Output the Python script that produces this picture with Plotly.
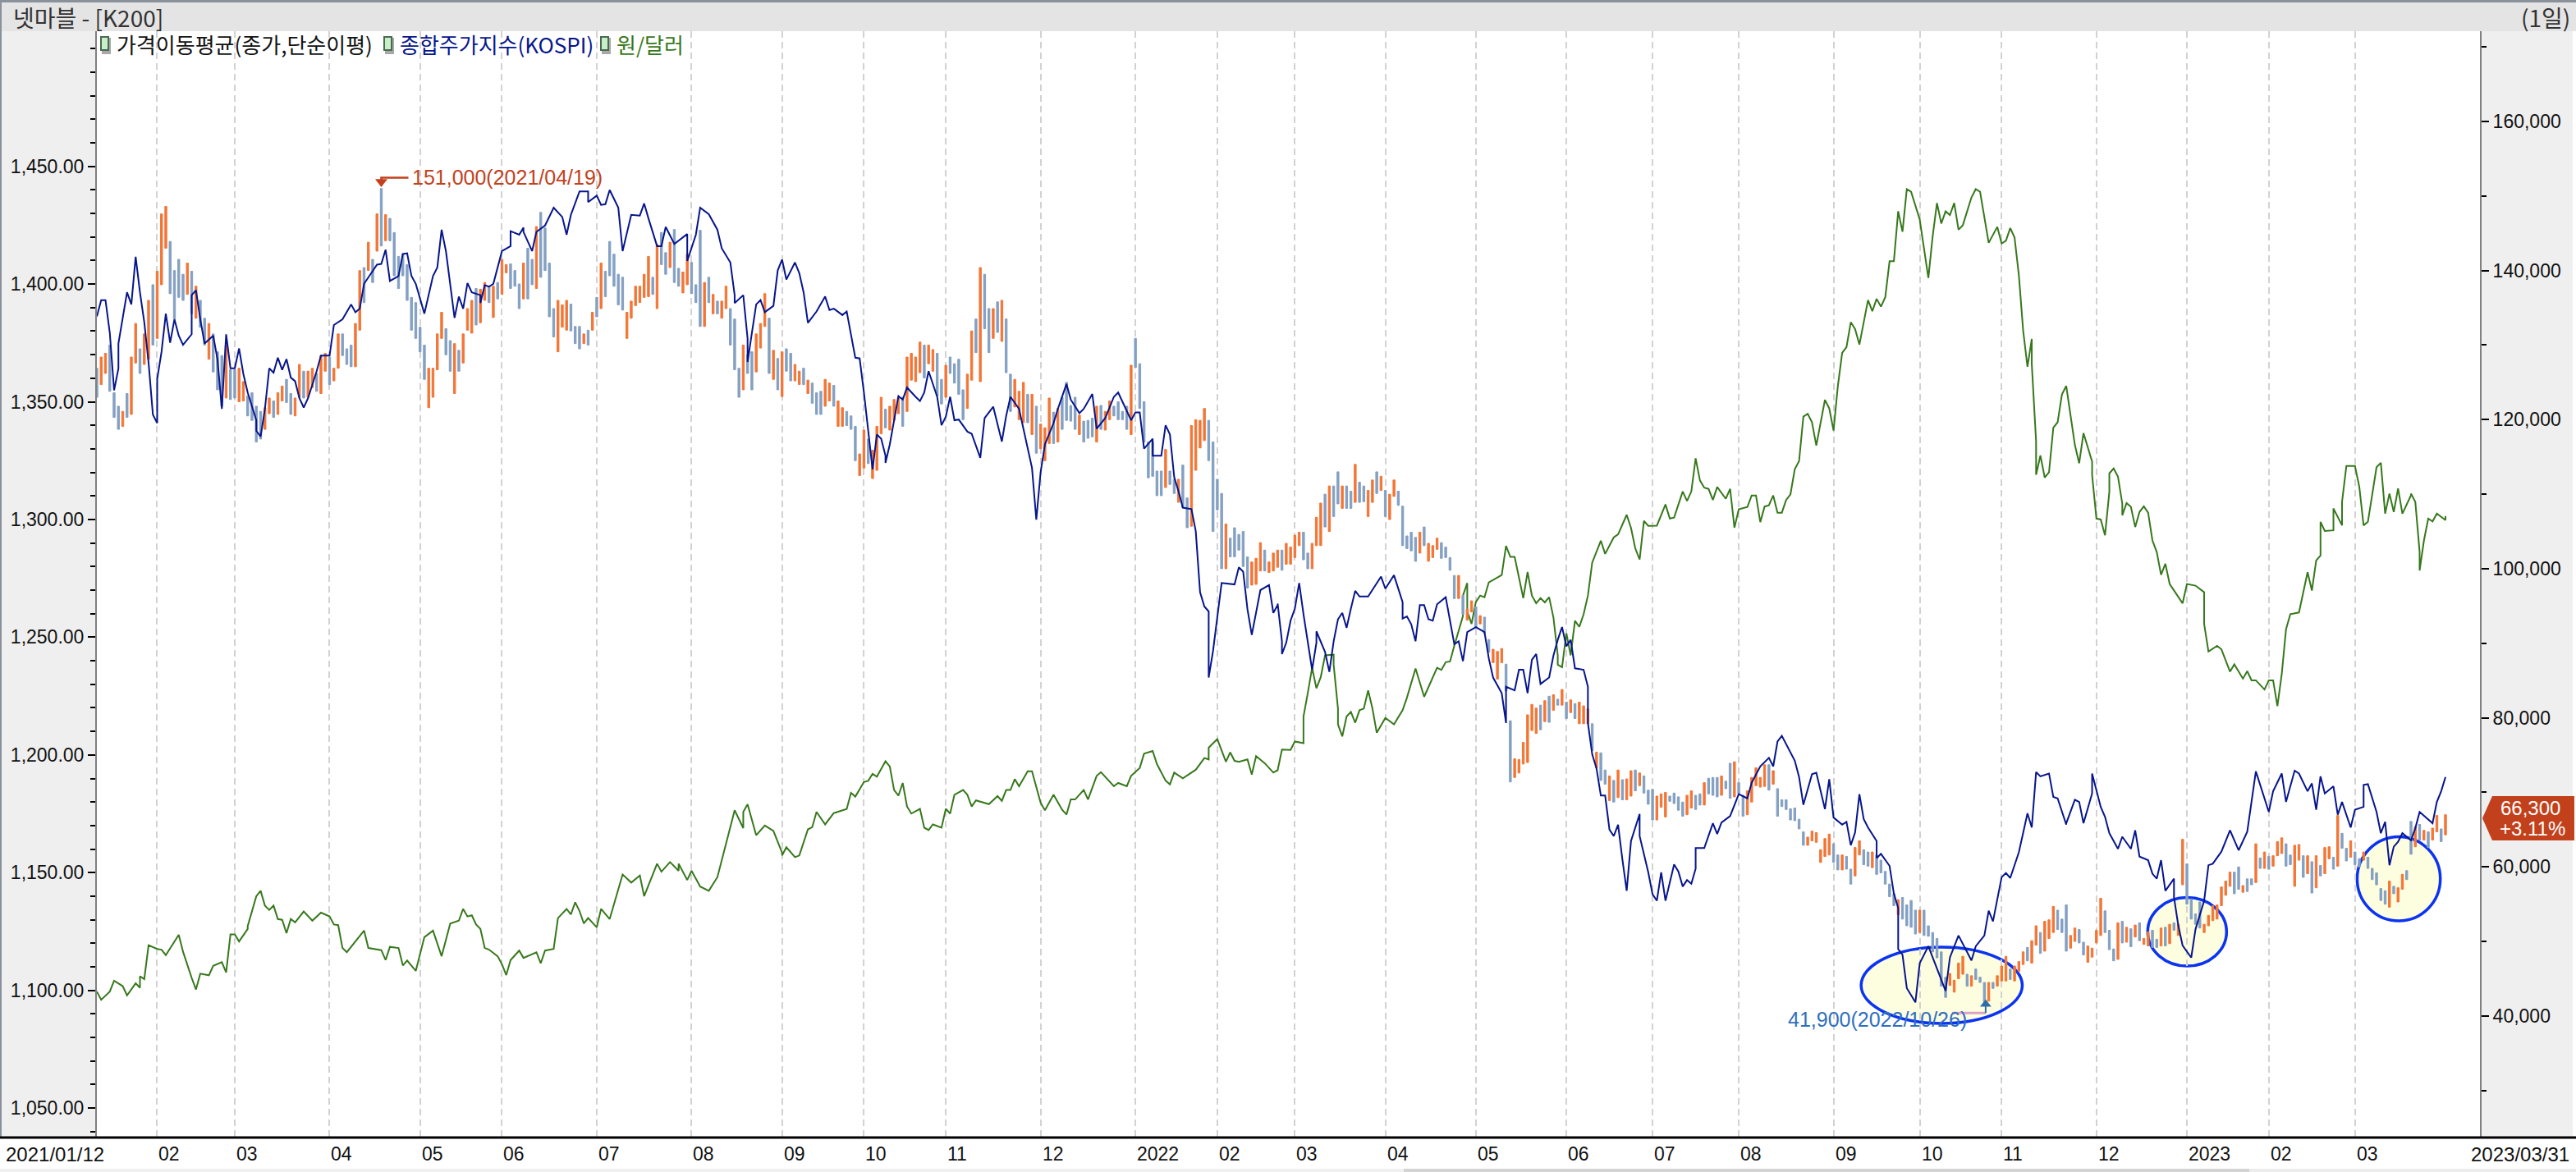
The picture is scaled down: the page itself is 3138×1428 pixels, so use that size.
"""Netmarble daily chart with KOSPI and USD/KRW overlays, in the HTS look."""

import plotly.graph_objects as go

# ---------------------------------------------------------------------------
# Data. Day = trading session counted from 2021/01/12.
# ---------------------------------------------------------------------------

tick_days = [14, 32, 54, 75, 94, 116, 138, 159, 178, 197, 219, 241, 260, 278, 299, 320, 341,
             361, 381, 403, 423, 442, 464, 485, 504, 524]
tick_labels = ["02", "03", "04", "05", "06", "07", "08", "09", "10", "11", "12", "2022", "02",
               "03", "04", "05", "06", "07", "08", "09", "10", "11", "12", "2023", "02", "03"]

usd_a = [(0,1099.5),(1,1096),(3,1099.5),(4,1104.1),(6,1101.8),(7,1097.9),(9,1103),(10,1101.1),(10,1106),(11,1104.8),(12,1119.2),(14,1117.6),(15,1117.3),(16,1115),(19,1123.6),(20,1116.4),(22,1105.3),(23,1100.7),(23,1100.4),(24,1107.1),(26,1106.4),(27,1110.4),(29,1112),(30,1107.6),(31,1123.8),(32,1123.8),(33,1120.8),(35,1126.1),(35,1127.3),(37,1140),(38,1142.3),(39,1136),(40,1134.2),(41,1136),(42,1130.3),(43,1130),(44,1124.3),(45,1130.3),(46,1128.9),(48,1133.5),(50,1129.6),(52,1133),(54,1131.4),(55,1128),(56,1127.7),(57,1118),(58,1116.2),(62,1125.4),(63,1118),(66,1117.1),(67,1112.9),(68,1118.5),(70,1118),(71,1110.6),(72,1112.7),(74,1108.3),(76,1122.6),(78,1125.4),(80,1114.5),(82,1128.4),(84,1129.6),(85,1134.6),(86,1131.4),(87,1131.9),(88,1128),(89,1126.1),(90,1118),(91,1117.3)]
usd_b = [(93,1114.5),(94,1111.1),(95,1106.5),(96,1112.9),(98,1116.9),(99,1113.8),(102,1116.2),(103,1111.5),(104,1116.9),(106,1117.6),(107,1130.7),(109,1134.6),(110,1132.3),(111,1137.4),(112,1133.7),(113,1128.4),(114,1130.7),(116,1126.8),(117,1134.6),(119,1130.3),(122,1149.2),(124,1145.8),(126,1148.8),(127,1140),(128,1144.6),(130,1153.8),(131,1150.4),(133,1154.5),(135,1150.8),(135,1153.8),(137,1146.9),(138,1150.8),(140,1144.1),(142,1142.3),(144,1148.1),(146,1162),(148,1176.5),(150,1168.9),(150,1175.8),(151,1179),(153,1165.9),(155,1170),(157,1167.7),(159,1158.5),(159,1157.3),(160,1160.8),(162,1156.6),(163,1157.3),(165,1168.4),(166,1169.3),(167,1175.8),(169,1170.5),(171,1175.3),(174,1177),(175,1183.9),(176,1182.3),(178,1188.5),(179,1189),(180,1192),(181,1190.8),(183,1197.3)]
usd_c = [(184,1195.1),(185,1185.1),(186,1182.7),(187,1188.1),(188,1178.1),(189,1175.1),(191,1177.1),(192,1169.1),(193,1168.1),(194,1170.5),(196,1169.1),(197,1177.1),(198,1175.1),(199,1183.1),(201,1185.1),(202,1183.1),(203,1178.1),(204,1180.7),(207,1179.1),(209,1182.5),(210,1180.5),(211,1185.1),(212,1185.1),(213,1189.7),(214,1186.7),(216,1193.1),(217,1193.1),(219,1179.7),(220,1176.5),(222,1183.1),(224,1176.7),(225,1174.7),(226,1181.1),(227,1181.1),(229,1185.1),(230,1181.1),(232,1191.1),(233,1192.7),(236,1186.7),(237,1188.1),(239,1186.7),(240,1191.1),(242,1194.5),(243,1200.5),(245,1201.7),(246,1196.1),(248,1189.1),(249,1187.5),(250,1192.5),(252,1190.1),(255,1193.7),(257,1198.7),(258,1198.1),(258,1203.1),(260,1206.7),(262,1197.1),(263,1201.1),(264,1197.5),(265,1197.1),(267,1198.1),(268,1191.7),(269,1199.5),(271,1196.5),(273,1192.5),(274,1193.5)]
usd_d = [(275,1202.3),(277,1202.1),(278,1205.7),(280,1205),(280,1216.3),(281,1226.3),(282,1237),(283,1228.3),(284,1233),(285,1242.3),(287,1242.6),(287,1238.3),(288,1219.7),(288,1213),(289,1207.9),(290,1216.3),(291,1218.3),(292,1213.7),(293,1219),(294,1219.7),(295,1227.4),(296,1219.7),(297,1209.4),(299,1215.7),(301,1213),(303,1219),(304,1224.3),(306,1236.7),(308,1224.7),(311,1237),(312,1236.1),(313,1239.4),(314,1239.7),(315,1246.4),(317,1259),(317,1267.7),(318,1273),(318,1261),(319,1255.7),(320,1265),(321,1267.7),(322,1267),(323,1273.3),(326,1276.4),(327,1288.8),(328,1284.1),(329,1284.1),(331,1266.6),(332,1277.7),(333,1267.7),(334,1264.4),(335,1266.6),(336,1264.8),(337,1267),(338,1258.4),(339,1242.3),(339,1238.3),(340,1237.3),(341,1251.7),(342,1242.3),(343,1257),(344,1254.4),(345,1259.7),(346,1267.7),(347,1281.7),(349,1291),(350,1285.4),(352,1292.4),(353,1293.7),(355,1302),(356,1296.4),(357,1287.7),(358,1283),(359,1299.4),(360,1297.3),(362,1297.4),(364,1306.4),(365,1300.4),(366,1300.8)]
usd_e = [(368,1311.9),(369,1307.9),(370,1311.9),(371,1326),(372,1316.6),(373,1313.5),(374,1313),(375,1308.3),(376,1313.8),(378,1308.8),(379,1313),(380,1296.5),(381,1304.3),(383,1305.3),(384,1310.2),(385,1310.2),(386,1298.9),(387,1305.5),(388,1306),(389,1310.2),(390,1302.9),(391,1302.9),(392,1308.3),(393,1310.7),(394,1321.3),(395,1324.8),(396,1343.7),(397,1344.9),(398,1341.3),(399,1331.4),(401,1350.8),(402,1347.2),(403,1337.8),(404,1356.7),(405,1370.8),(406,1373.2),(407,1383.8),(408,1380.9),(409,1374.3),(411,1393.2),(412,1388.5),(413,1393.7),(414,1390.4),(415,1394.4),(416,1409.7),(417,1409.7),(418,1430.9),(419,1422.2),(420,1440.3),(421,1439.2),(423,1427.4),(424,1415.6),(425,1402.6),(426,1420.3),(427,1434.4),(428,1425.7),(429,1430.9),(430,1429.3),(431,1434.4),(432,1423.1),(433,1425),(435,1436.8),(436,1440.3),(437,1439.2),(438,1428.5),(439,1417.5),(441,1424.3),(442,1417.2),(443,1418.4),(444,1423.8),(445,1419.8),(446,1403.8),(447,1380.2),(448,1364.9),(449,1376.7),(449,1366.1),(450,1333.1),(450,1319),(451,1327.2),(452,1317.8),(453,1320.1),(454,1339),(455,1341.3),(456,1353.1),(457,1356.7)]
usd_f = [(459,1331.7),(460,1323.9),(461,1336.7),(463,1324.6),(463,1318.9),(464,1300.4),(465,1300),(466,1293.3),(467,1311.8),(467,1319.6),(468,1321.7),(469,1318.2),(470,1306.8),(470,1301.8),(471,1307),(472,1305.4),(473,1296.8),(474,1303.2),(475,1305.6),(476,1302.9),(477,1291.1),(478,1286.2),(479,1276.5),(480,1281.2),(481,1272.6),(484,1264.4),(485,1272.6),(487,1271.9),(489,1269.1),(489,1255.6),(490,1243.9),(492,1246.3),(493,1244.9),(495,1235.4),(496,1238.5),(498,1232.4),(499,1235.6),(500,1231.7),(501,1231.7),(503,1227.8),(504,1231.7),(505,1231.7),(506,1220.7),(507,1234.2),(508,1253.4),(509,1259.8),(511,1260.5),(513,1277.6),(514,1269.8),(515,1282.6),(516,1284.7),(516,1299),(517,1295.1),(519,1295.4),(519,1304.7),(521,1297.5),(521,1307.5),(522,1322.7),(524,1322.7),(525,1313.9),(526,1297.5),(527,1299),(529,1322.2),(530,1324.1),(531,1302.5),(532,1311),(533,1303.2),(534,1313.2),(535,1302.5),(537,1310.3),(537,1311),(538,1307.5),(539,1286.2),(539,1278.3),(540,1291.1),(541,1300.4),(542,1299.2),(543,1302.5),(545,1299.7),(545,1301.5)]

kospi_a = [(0,3123),(1,3146),(2,3146),(3,3100),(4,3019),(5,3050),(5,3085),(6,3119),(7,3157),(8,3140),(9,3207),(10,3157),(11,3115),(12,3058),(13,2985),(14,2973),(14,3035),(15,3073),(16,3127),(17,3086),(18,3119),(19,3096),(20,3083),(22,3098),(22,3153),(23,3160),(24,3119),(25,3085),(27,3096),(28,3062),(29,2993),(30,3098),(31,3050),(32,3050),(33,3078),(34,3042),(35,3016),(37,2977),(37,2962),(38,2954),(39,2993),(40,3050),(41,3044),(42,3065),(43,3048),(44,3063),(45,3037),(46,3032),(47,3008),(48,2995),(49,3008),(51,3046),(52,3068),(54,3068),(55,3111),(57,3119),(59,3140),(60,3129),(61,3134),(62,3169),(64,3188),(65,3196),(66,3197),(67,3217),(68,3173),(70,3180),(71,3211),(72,3212),(73,3180),(74,3169),(76,3127),(78,3180),(79,3192),(80,3245),(81,3215),(82,3165),(83,3121),(84,3151),(85,3134),(86,3170),(87,3157),(89,3153),(89,3142),(90,3167),(91,3165)]
kospi_b = [(92,3169),(94,3215),(96,3222),(96,3243),(98,3238),(99,3248),(99,3242),(101,3215),(102,3242),(104,3251),(106,3276),(108,3263),(109,3238),(110,3266),(112,3299),(114,3299),(114,3284),(116,3293),(117,3280),(118,3281),(119,3301),(121,3276),(122,3215),(124,3266),(126,3265),(127,3282),(128,3261),(130,3222),(131,3222),(132,3249),(134,3225),(137,3239),(137,3201),(139,3238),(140,3276),(142,3267),(144,3245),(145,3219),(147,3199),(148,3153),(148,3142),(150,3153),(151,3092),(151,3059),(152,3100),(153,3140),(154,3146),(155,3129),(157,3138),(158,3188),(159,3203),(160,3175),(162,3199),(163,3184),(164,3157),(165,3114),(167,3130),(169,3151),(170,3132),(171,3134),(173,3125),(174,3130),(176,3065),(177,3064),(178,3016),(180,2908),(181,2957),(182,2951),(183,2927)]
kospi_c = [(183,2917),(184,2943),(185,2977),(186,3011),(187,3006),(188,3023),(190,3010),(191,3004),(192,3016),(193,3046),(195,3010),(196,2970),(197,2982),(198,3010),(199,2977),(200,2978),(202,2961),(203,2958),(205,2924),(206,2980),(208,2996),(210,2947),(211,2983),(212,3010),(214,2993),(216,2937),(217,2910),(218,2837),(219,2904),(220,2943),(222,2973),(223,2993),(225,3028),(226,3006),(228,2987),(229,2993),(231,3014),(232,2965),(234,2980),(236,3010),(237,3016),(240,2977),(241,2988),(242,2988),(243,2937),(245,2951),(245,2927),(247,2927),(248,2970),(249,2957),(250,2897),(251,2877),(252,2854),(254,2852),(255,2821),(256,2735),(257,2715),(258,2708),(258,2615),(259,2652),(260,2698),(261,2748),(264,2746),(265,2770),(266,2764),(267,2711),(268,2675),(270,2738),(272,2745),(273,2706),(274,2717)]
kospi_d = [(274,2719),(275,2666),(275,2648),(276,2664),(277,2695),(278,2712),(279,2748),(280,2704),(281,2662),(282,2626),(283,2664),(283,2680),(285,2651),(286,2623),(287,2666),(288,2697),(289,2706),(290,2685),(291,2712),(292,2737),(293,2729),(295,2729),(298,2757),(299,2740),(301,2759),(301,2759),(303,2721),(303,2698),(304,2701),(305,2690),(306,2666),(307,2717),(308,2717),(309,2697),(310,2695),(311,2718),(313,2728),(314,2695),(315,2662),(316,2666),(317,2638),(318,2679),(320,2686),(322,2679),(323,2642),(324,2615),(326,2593),(327,2551),(327,2602),(329,2597),(330,2626),(331,2626),(332,2593),(333,2640),(334,2648),(335,2606),(337,2615),(338,2646),(339,2668),(340,2686),(341,2659),(342,2668),(343,2628),(345,2626),(346,2602),(346,2551),(347,2507),(348,2487),(349,2449),(350,2449),(351,2401),(352,2392),(353,2408),(354,2359),(355,2315),(356,2385),(358,2423),(358,2392),(360,2341),(361,2310),(362,2301),(363,2341),(364,2301),(366,2352)]
kospi_e = [(367,2342),(368,2321),(369,2330),(370,2325),(371,2346),(371,2375),(373,2375),(375,2410),(376,2395),(377,2411),(379,2420),(381,2451),(383,2445),(384,2467),(386,2490),(388,2502),(389,2490),(390,2525),(391,2533),(394,2498),(395,2475),(396,2436),(398,2479),(399,2481),(401,2430),(402,2472),(403,2418),(405,2408),(406,2412),(407,2379),(408,2397),(409,2451),(410,2416),(411,2404),(413,2385),(413,2361),(414,2367),(416,2350),(417,2311),(418,2291),(418,2233),(419,2225),(420,2178),(422,2158),(423,2213),(425,2237),(427,2205),(428,2190),(429,2174),(430,2221),(432,2252),(435,2217),(436,2237),(438,2252),(439,2287),(440,2272),(442,2334),(443,2340),(444,2333),(446,2369),(448,2424),(449,2404),(450,2482),(451,2476),(453,2480),(454,2447),(455,2445),(457,2408)]
kospi_f = [(457,2410),(459,2443),(460,2440),(461,2410),(463,2452),(463,2480),(465,2433),(466,2419),(467,2396),(469,2374),(470,2391),(472,2374),(473,2400),(474,2363),(476,2358),(477,2339),(478,2332),(479,2358),(480,2315),(482,2332),(482,2306),(483,2266),(484,2238),(486,2221),(487,2261),(489,2301),(490,2351),(491,2353),(493,2370),(495,2400),(497,2372),(499,2398),(500,2438),(501,2483),(504,2426),(505,2455),(507,2480),(508,2440),(510,2484),(511,2480),(513,2455),(514,2466),(515,2429),(516,2476),(517,2452),(519,2462),(520,2422),(521,2440),(523,2404),(524,2429),(526,2433),(526,2464),(527,2465),(529,2426),(530,2396),(531,2412),(532,2351),(533,2377),(534,2384),(535,2396),(537,2386),(538,2403),(539,2426),(542,2410),(543,2440),(544,2455),(545,2475)]

# Bars run day after day from day 0: (high, low, 1 = rising / 0 = falling)
bars_a = [(126900,123000,0),(128400,124700,1),(128900,126200,1),(130000,123800,0),(123600,120300,0),(121800,118700,0),(121100,119100,1),(123500,120300,0),(128400,120700,1),(132900,127600,1),(129500,126200,0),(131500,127400,1),(136000,128100,1),(138100,130000,0),(139900,130900,1),(147600,138100,1),(148600,143000,1),(143900,136900,0),(140000,133500,0),(141500,136400,0),(139500,136000,0),(141000,136800,1),(139900,134200,0),(137900,133600,1),(136000,132400,0),(133600,130000,0),(132900,128100,1),(131500,126400,0),(129100,124000,0),(128600,121800,0),(130000,122900,1),(126700,122700,0),(126700,122900,0),(126900,122400,1),(125100,122500,1),(123200,120500,0),(123600,119900,0),(121800,117000,0),(121100,117400,0),(121600,118700,1),(122900,120800,1),(122500,120300,0),(123600,120700,1),(124500,122500,1),(125400,122300,0),(123500,120700,0),(122900,120500,1),(127400,123000,1),(126500,122900,0),(126500,123000,1),(126900,124300,1),(126200,123800,0),(128600,123500,1),(128900,126500,1),(128400,124700,0),(126900,125200,1),(131500,126900,1),(131500,128600,0),(129500,127400,0),(130000,127100,0),(132900,127100,1),(140000,132000,1),(140400,135700,0),(143800,140000,1),(141500,138400,0),(147600,142600,1),(151000,143300,0),(147500,144000,1),(147000,144000,0),(145100,139300,0),(141900,137600,0),(142200,139300,0),(140800,136000,0),(136400,132000,0),(135700,130900,0),(132400,129100,0),(130000,125400,0),(126900,121600,1),(126900,123000,1),(131500,126700,1),(134400,130900,1),(132200,128700,0),(130600,126500,0),(130200,123500,1),(129300,126500,0),(131500,127600,1),(134900,132000,1),(136000,131600,1),(137600,132700,0),(137500,133000,1),(138400,136000,1),(137900,135700,0)]
bars_b = [(137900,133700,1),(138400,136200,0),(141500,136800,1),(140800,139700,1),(140900,137600,0),(140000,137900,0),(138200,134900,0),(141000,136200,1),(143000,136200,0),(141500,138100,0),(145900,137600,1),(147800,139100,0),(145700,140000,0),(141000,133800,0),(134900,131100,0),(136000,129100,1),(135400,132400,1),(136000,132000,1),(135500,131900,0),(132500,130200,0),(132500,129500,0),(131500,130200,1),(132000,130000,0),(134400,132000,1),(136400,133800,0),(141000,134900,1),(139900,136500,0),(143900,139300,0),(142200,137900,0),(139500,135400,0),(139100,134700,0),(134400,130900,1),(135900,133600,1),(137900,135300,1),(137900,135700,1),(139500,136400,1),(141900,136500,1),(139100,136800,0),(143500,134900,1),(145100,140800,0),(142400,139500,0),(143800,140400,1),(145500,138400,0),(140300,137900,0),(139800,137000,1),(142200,138100,1),(141100,136900,0),(138100,135700,0),(145400,132500,0),(138400,132500,1),(139100,135700,0),(136800,134200,1),(135900,134200,0),(135900,133600,1),(137900,134900,1),(134900,130000,0),(133500,126700,0),(126900,123000,0),(130000,124000,1),(128700,126200,0),(129100,124000,0),(131500,126400,1),(132900,129600,1),(136900,132500,1),(133600,126200,0),(129300,125400,1),(128200,124000,0),(129100,123100,1),(129500,126500,0),(128900,125200,0),(127400,125200,1),(126500,124700,1),(126900,124700,0),(125300,123500,1),(124900,122200,0),(123600,120700,0),(123800,120700,0),(125400,121800,1),(124900,122500,1),(124600,121800,0),(122500,119100,1),(121600,119100,1),(121100,119200,0),(120500,118700,0),(119100,114500,0),(115400,112500,1),(118600,113500,1),(117400,114100,0),(115900,112100,1),(119100,113200,1),(123000,118100,1),(121400,118900,0)]
bars_c = [(121800,118600,1),(122700,119900,1),(123000,120800,1),(123000,119100,0),(128400,121100,1),(128900,125300,1),(128400,125100,1),(130400,126300,1),(130000,125600,0),(130000,127500,1),(129400,126500,1),(128900,123200,0),(125400,122100,0),(127300,123000,1),(128400,126200,0),(127500,124900,0),(128100,123400,0),(124000,120000,0),(126100,121500,1),(131900,125300,1),(133500,129000,0),(140400,125100,1),(139500,132200,0),(134900,129000,0),(134900,130900,1),(135800,131700,0),(136000,130500,1),(133500,126300,0),(126100,121100,0),(125400,121700,1),(123800,120000,1),(125000,119600,1),(123400,119600,0),(123400,118000,1),(121800,115500,0),(119400,116100,1),(118900,114500,1),(122900,116800,1),(121000,116800,0),(121500,117000,1),(123000,118700,0),(125000,119900,0),(121900,119800,0),(123000,118700,0),(120600,118000,1),(119800,117000,0),(119900,117500,0),(120200,117700,0),(121800,117000,1),(121900,118700,0),(121100,118600,1),(122500,120000,1),(121800,120500,0),(122400,120000,0),(121100,120000,0),(121800,118700,0),(127300,118000,1),(130900,127000,0),(127500,121500,0),(122400,117000,0),(117000,112200,0),(117000,112400,0),(113100,109800,0),(113100,109800,0),(116000,110900,1),(113100,111300,0),(112000,110100,0),(112000,108900,1),(113900,108200,0),(109500,105500,0),(119200,105700,1),(120000,113200,1),(119900,116200,1),(121500,117200,1),(119900,114500,0),(117000,105000,0),(112000,107900,0),(110100,100000,0),(106000,100000,1),(104100,101600,0),(105500,101600,0),(104600,102500,0),(105000,100300,0),(101600,97400,0),(100900,97800,1),(101400,97900,1),(103500,99700,1),(102500,99700,0),(100900,99500,1),(102100,99700,1),(102500,100200,1)]
bars_d = [(102500,99800,0),(103400,100600,1),(102900,100600,1),(104500,101500,1),(104900,103100,1),(104900,101200,0),(102100,100000,0),(103400,100000,1),(106900,103100,1),(108800,103100,1),(110000,105600,0),(111100,105000,1),(111100,107000,0),(113000,108700,0),(111100,108100,1),(111100,108100,0),(110400,108100,0),(114000,108900,1),(111600,108900,0),(111100,109000,0),(110500,107000,1),(111900,108900,1),(113000,110100,0),(112400,110500,1),(110500,107000,0),(110000,106600,1),(111900,109700,1),(110400,108500,0),(108400,103100,0),(104400,102700,0),(104900,102400,0),(104200,101000,0),(104900,102100,1),(105600,103100,0),(103400,101000,1),(103100,101500,1),(104100,102600,1),(103500,101400,0),(102900,101500,0),(101500,99800,0),(99100,96000,0),(99100,96000,1),(96400,93900,0),(94600,93100,1),(95700,94200,1),(94900,92100,0),(93700,92600,1),(93500,91300,0),(90500,88800,0),(89200,87400,1),(88900,85200,1),(89300,87400,1),(87200,83600,0),(79600,71400,0),(74500,72000,1),(74400,72600,1),(76700,73800,1),(80400,74000,1),(81800,78300,1),(81300,77900,1),(81700,78400,0),(82300,79500,1),(82900,79400,0),(83100,81000,1),(82500,81700,0),(83800,81700,1),(82100,79900,0),(82400,80700,1),(81900,79900,0),(82100,79200,1),(81600,79200,1),(81200,79200,1),(79200,75600,0),(75400,73300,1),(75300,71600,0),(73000,71100,0),(72200,68900,1),(71600,68700,0),(73000,69300,1),(71700,69000,0),(71800,69000,1),(72900,69500,1),(73000,70200,0),(72600,70900,1),(72200,69900,0),(70300,68400,0),(70400,66300,0),(69500,66300,1),(69800,68000,1),(70000,66700,1),(69500,68800,0),(69900,68500,0)]
bars_e = [(69400,67600,0),(68700,66800,0),(69600,67000,1),(70200,67900,1),(69600,67700,0),(69800,68300,0),(71300,68300,1),(71900,69800,0),(72000,69600,0),(72000,69400,0),(72200,69600,1),(71500,70500,0),(73900,69200,0),(74100,69400,1),(71300,69800,0),(69600,66800,0),(70200,67000,1),(72000,68700,1),(73300,70900,1),(72000,70700,1),(73700,70800,1),(73700,70300,0),(72900,71100,1),(70500,66800,0),(69000,68100,0),(69000,67700,0),(67800,66300,0),(67900,66200,0),(66400,65100,0),(64700,62900,0),(64000,62900,1),(64800,63500,1),(64600,63300,1),(62300,60600,1),(63800,61400,1),(64400,61600,1),(63100,60600,0),(61600,59600,0),(61600,59600,1),(61400,59700,0),(59700,57700,0),(62600,58800,1),(63500,61600,1),(62300,60300,0),(62000,60100,0),(62000,59900,1),(61600,59000,0),(60900,59200,0),(59400,57700,0),(57700,56000,0),(56400,54800,0),(55600,53600,1),(55900,53000,0),(54900,52100,0),(55500,51900,0),(54200,51000,0),(54200,51200,1),(54200,50800,0),(52100,50700,0),(51200,48600,0),(50400,47800,0),(48600,44000,0),(45200,42500,0),(45700,44100,1),(44800,43200,1),(47100,45000,1),(48000,45600,1),(45600,44000,0),(45400,44000,1),(46300,44900,0),(45200,44500,0),(44500,41900,0),(44500,42000,1),(44500,43700,0),(45400,44000,1),(46700,44700,1),(48000,44700,1),(46300,44900,0),(46700,44700,1),(47300,46000,1),(48600,46900,1),(49200,47400,0),(50100,47100,1),(52100,49500,1),(51200,48400,0),(52700,48700,1),(52900,50400,1),(54700,51200,1),(54200,51600,0),(53000,51200,0),(54900,48700,0)]
bars_f = [(50800,49100,1),(51800,50000,1),(51600,49800,0),(49900,48200,0),(49400,47200,1),(49100,47900,1),(51500,49800,1),(55800,50800,1),(54100,51200,0),(51500,48900,0),(49000,47400,0),(52500,47600,1),(52700,49800,0),(51900,49900,1),(51700,49300,0),(52200,50600,1),(52500,50100,0),(50400,49600,1),(51300,49400,1),(51500,49200,0),(50300,49200,0),(51800,49400,1),(51900,49400,0),(52300,49700,1),(52500,51500,0),(52300,50800,1),(63700,57600,1),(60400,55000,0),(55700,53000,0),(53700,52300,0),(55300,51800,0),(52300,51200,1),(53500,52100,1),(54800,52800,1),(54900,53000,1),(57300,54800,1),(58100,56200,1),(59300,57400,1),(59300,56400,0),(60000,57000,0),(57500,56600,1),(58400,56700,0),(58400,57600,0),(63100,57900,1),(61200,59800,0),(62000,59800,1),(61400,59700,0),(61500,60100,1),(63400,61500,1),(63900,61800,1),(63100,60100,0),(61600,60300,0),(62900,57400,1),(63000,60900,1),(61500,58600,0),(61500,59100,1),(60700,56500,0),(61500,57200,1),(60200,58800,0),(62600,59100,1),(62700,61100,1),(61300,59700,0),(66900,60100,1),(64500,62500,0),(62500,60800,0),(63500,61300,1),(62000,60300,0),(61100,60000,0),(62000,60900,1),(61300,59800,0),(59800,58300,0),(59200,57600,0),(57100,55500,0),(56800,55000,0),(58100,54600,1),(57400,56400,0),(57200,55300,1),(59000,57000,1),(59500,58300,0),(66100,61700,0),(65400,62700,1),(65700,63600,0),(64900,63600,1),(64700,62600,0),(65200,63600,1),(66900,64700,1),(65100,63400,0),(67000,64300,1)]

# ---------------------------------------------------------------------------
# Picture geometry and colours
# ---------------------------------------------------------------------------

WIDTH, HEIGHT = 3138, 1428
PLOT_L, PLOT_R, PLOT_T, PLOT_B = 118, 3021, 38, 1386

ORANGE = "#f37636"
STEEL = "#84a0c2"
NAVY = "#06158c"
GREEN = "#37781c"
RED = "#c2411c"
BLUE_TXT = "#2f6fc0"
LATIN = "Liberation Sans"
KOREAN = "Noto Sans CJK KR"


def px(x):
    return (x - PLOT_L) / (PLOT_R - PLOT_L)


def py(y):
    return (PLOT_B - y) / (PLOT_B - PLOT_T)


def band(x0, y0, x1, y1, color):
    return dict(type="rect", xref="paper", yref="paper", x0=px(x0), x1=px(x1), y0=py(y0), y1=py(y1),
                fillcolor=color, line=dict(width=0), layer="above")


def label(x, y, text, color="#111111", size=23, font=LATIN, anchor="left"):
    return dict(xref="paper", yref="paper", x=px(x), y=py(y), text=text, showarrow=False,
                xanchor=anchor, yanchor="middle", font=dict(family=font, size=size, color=color))


usd = usd_a + usd_b + usd_c + usd_d + usd_e + usd_f
kospi = kospi_a + kospi_b + kospi_c + kospi_d + kospi_e + kospi_f
bars = bars_a + bars_b + bars_c + bars_d + bars_e + bars_f
days = list(range(len(bars)))

fig = go.Figure()

fig.add_trace(go.Scatter(x=[p[0] for p in usd], y=[p[1] for p in usd], mode="lines", name="원/달러",
                         line=dict(color=GREEN, width=2), yaxis="y"))

fig.add_trace(go.Candlestick(
    x=days,
    open=[b[1] if b[2] else b[0] for b in bars],
    high=[b[0] for b in bars],
    low=[b[1] for b in bars],
    close=[b[0] if b[2] else b[1] for b in bars],
    increasing=dict(line=dict(color=ORANGE, width=1), fillcolor=ORANGE),
    decreasing=dict(line=dict(color=STEEL, width=1), fillcolor=STEEL),
    yaxis="y2",
    name="K200",
))

# high / low callouts
fig.add_trace(go.Scatter(x=[72.3, 66, 66], y=[152450, 152450, 151800], mode="lines",
                         line=dict(color=RED, width=2.5), yaxis="y2", showlegend=False))
fig.add_trace(go.Scatter(x=[66], y=[151900], mode="markers", yaxis="y2", showlegend=False,
                         marker=dict(symbol="triangle-down", size=13, color=RED)))
fig.add_trace(go.Scatter(x=[430.5, 438.3], y=[40400, 40400], mode="lines",
                         line=dict(color="#dca2c8", width=3), yaxis="y2", showlegend=False))
fig.add_trace(go.Scatter(x=[438.3, 438.3], y=[40400, 41700], mode="lines",
                         line=dict(color="#2f6ca8", width=2), yaxis="y2", showlegend=False))
fig.add_trace(go.Scatter(x=[438.3], y=[41600], mode="markers", yaxis="y2", showlegend=False,
                         marker=dict(symbol="triangle-up", size=12, color="#2f6ca8")))

fig.add_trace(go.Scatter(x=[p[0] for p in kospi], y=[p[1] for p in kospi], mode="lines",
                         name="종합주가지수(KOSPI)", line=dict(color=NAVY, width=2), yaxis="y3"))

shapes = []
# hand-drawn highlight circles
for d0, d1, v0, v1 in [(409.4, 446.8, 39000, 49240), (475.9, 494.2, 46700, 55890), (524.5, 543.8, 52760, 64050)]:
    shapes.append(dict(type="circle", xref="x", yref="y2", x0=d0, x1=d1, y0=v0, y1=v1,
                       fillcolor="#fdfde0", line=dict(color="#0b33f2", width=3.5), layer="below"))

# window chrome
shapes += [
    band(0, 0, WIDTH, 3, "#8a909c"),
    band(0, 3, WIDTH, 38, "#e4e4e4"),
    band(0, 3, 2, PLOT_B, "#8a909c"),
    band(3134, 38, WIDTH, PLOT_B, "#ffffff"),
    band(0, PLOT_B, WIDTH, 1424, "#ffffff"),
    band(0, 1424, 1710, HEIGHT, "#f0f0f0"),
    band(1710, 1424, 2740, HEIGHT, "#d4d4d4"),
    band(2740, 1424, WIDTH, HEIGHT, "#ececec"),
    band(0, PLOT_B - 1.5, WIDTH, PLOT_B + 1.5, "#000000"),
]
# current price tag
tag = [(3024, 997), (3036, 970), (3136, 970), (3136, 1024), (3036, 1024)]
tag_path = "M " + " L ".join(f"{px(x):.5f},{py(y):.5f}" for x, y in tag) + " Z"
shapes.append(dict(type="path", xref="paper", yref="paper", path=tag_path, fillcolor=RED,
                   line=dict(width=0), layer="above"))

# legend swatches
for x in (122, 467, 731):
    shapes.append(band(x + 2, 46, x + 13, 66, "#a8a8a8"))
    shapes.append(band(x, 44, x + 11, 62, "#4a6a50"))
    shapes.append(band(x + 2, 46, x + 9, 60, "#c8f0c8"))

annotations = [
    label(14, 21, "넷마블 - [K200]", color="#333333", size=28, font=KOREAN),
    label(3133, 21, "(1일)", color="#333333", size=28, font=KOREAN, anchor="right"),
    label(140, 54, "가격이동평균(종가,단순이평)", color="#111111", size=26, font=KOREAN),
    label(485, 54, "종합주가지수(KOSPI)", color=NAVY, size=26, font=KOREAN),
    label(749, 54, "원/달러", color=GREEN, size=26, font=KOREAN),
    label(500, 216, "151,000(2021/04/19)", color=RED, size=25),
    label(2176, 1242, "41,900(2022/10/26)", color=BLUE_TXT, size=25),
    label(3082, 984, "66,300", color="#ffffff", size=24, anchor="center"),
    label(3085, 1009, "+3.11%", color="#ffffff", size=24, anchor="center"),
    label(5, 1406, "2021/01/12", size=24),
    label(3132, 1406, "2023/03/31", size=24, anchor="right"),
]
for day, text in zip(tick_days, tick_labels):
    annotations.append(dict(xref="x", yref="paper", x=day, y=py(1406), text=text, showarrow=False,
                            xanchor="left", yanchor="middle", xshift=0,
                            font=dict(family=LATIN, size=23, color="#111111")))

fig.update_layout(
    width=WIDTH,
    height=HEIGHT,
    autosize=False,
    margin=dict(l=PLOT_L, r=WIDTH - PLOT_R, t=PLOT_T, b=HEIGHT - PLOT_B, pad=0),
    paper_bgcolor="#efefef",
    plot_bgcolor="#ffffff",
    showlegend=False,
    boxgap=0.35,
    shapes=shapes,
    annotations=annotations,
    xaxis=dict(
        range=[0, 553],
        rangeslider=dict(visible=False),
        tickvals=tick_days,
        showticklabels=False,
        ticks="outside",
        ticklen=12,
        tickwidth=2,
        tickcolor="#000000",
        showgrid=True,
        griddash="8px,5px",
        gridcolor="#d2d2d2",
        gridwidth=2,
        zeroline=False,
    ),
    yaxis=dict(
        range=[1037.5, 1507.4],
        tickvals=list(range(1050, 1451, 50)),
        tickformat=",.2f",
        tickfont=dict(family=LATIN, size=23, color="#111111"),
        ticks="outside",
        ticklen=9,
        tickwidth=2,
        tickcolor="#000000",
        minor=dict(dtick=10, tick0=1050, ticks="outside", ticklen=6, tickwidth=2, tickcolor="#000000", showgrid=False),
        showgrid=False,
        zeroline=False,
        showline=True,
        linecolor="#808080",
        linewidth=2,
    ),
    yaxis2=dict(
        overlaying="y",
        side="right",
        range=[23696, 172110],
        tickvals=list(range(40000, 160001, 20000)),
        tickformat=",d",
        tickfont=dict(family=LATIN, size=23, color="#111111"),
        ticks="outside",
        ticklen=9,
        tickwidth=2,
        tickcolor="#000000",
        minor=dict(dtick=10000, tick0=40000, ticks="outside", ticklen=6, tickwidth=2, tickcolor="#000000", showgrid=False),
        showgrid=False,
        zeroline=False,
        showline=True,
        linecolor="#808080",
        linewidth=2,
    ),
    yaxis3=dict(overlaying="y", range=[1967.8, 3524.4], visible=False),
)

fig.write_html("out.html", post_script="document.body.style.margin='0';", config={"displayModeBar": False})
